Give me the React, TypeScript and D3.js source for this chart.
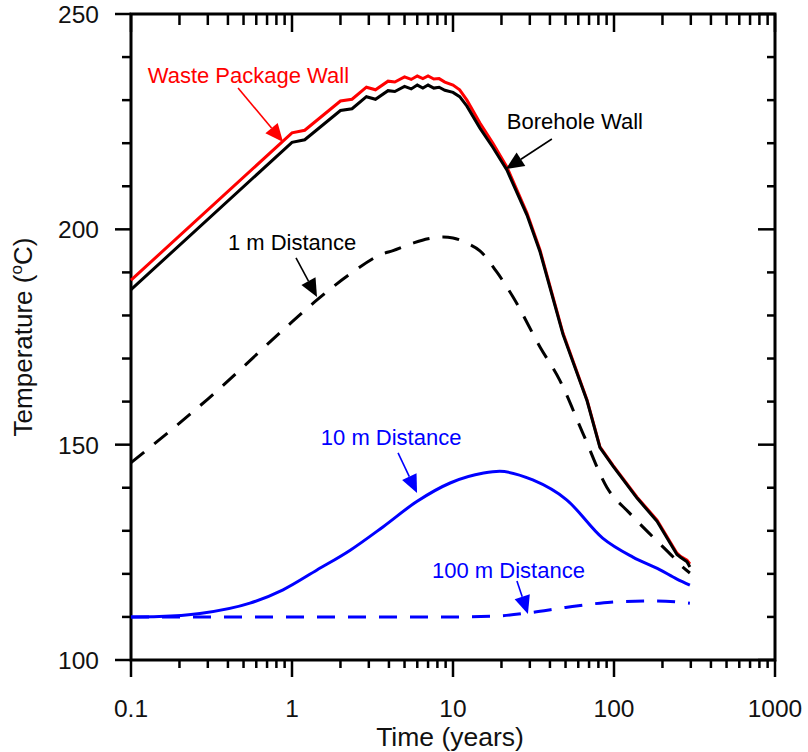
import React, { useRef, useEffect } from "react";
import * as d3 from "d3";

// Time (years) / temperature (deg C)
const wpTime = [0.1, 1.0, 1.2, 2.0, 2.36, 2.9, 3.3, 3.95, 4.35, 5.0, 5.5, 6.0, 6.5, 7.0, 7.6, 8.2, 8.9, 10, 11, 12.2, 14.7, 17.7, 21.6, 28.8, 34.7, 48.2, 68, 81.8, 98.6, 139, 185, 246, 260, 284, 296];
const wpTemp = [188.2, 222.4, 223.0, 229.8, 230.2, 233.0, 232.4, 234.4, 234.2, 235.4, 234.8, 235.6, 235.0, 235.6, 234.9, 235.0, 234.2, 233.5, 232.4, 230.0, 224.7, 220.0, 214.5, 203.8, 195.2, 175.9, 160.4, 149.5, 145.2, 137.8, 132.5, 124.8, 124.0, 123.2, 122.3];
const bhTemp = [186.0, 220.2, 220.8, 227.6, 228.0, 230.8, 230.2, 232.2, 232.0, 233.2, 232.6, 233.5, 232.8, 233.5, 232.8, 233.0, 232.3, 231.8, 230.8, 228.6, 223.5, 219.0, 213.8, 203.3, 194.8, 175.6, 160.2, 149.3, 145.0, 137.6, 132.2, 124.5, 123.8, 122.8, 121.6];

const d1Time = [0.1, 0.3, 1.0, 1.43, 2.39, 3.66, 4.2, 5.65, 7.0, 8.67, 10, 12.2, 14.7, 18.7, 23.6, 34.7, 46, 64, 90.6, 125, 174, 233, 260, 296];
const d1Temp = [145.8, 160.6, 178.5, 183.6, 190.1, 194.3, 195.0, 196.8, 197.8, 198.2, 198.0, 196.8, 195.0, 190.1, 184.3, 172.7, 165.0, 152.7, 140.0, 134.1, 128.6, 123.9, 122.0, 120.2];

const d10Time = [0.1, 0.15, 0.268, 0.548, 0.88, 1.43, 2.3, 3.67, 5.96, 9.6, 15.5, 19.5, 31.3, 50.8, 85, 131, 192, 246, 296];
const d10Temp = [110.0, 110.1, 110.8, 113.2, 116.3, 120.9, 125.5, 130.9, 136.8, 141.1, 143.4, 143.8, 141.8, 137.2, 128.3, 123.9, 121.0, 118.8, 117.4];

const d100Time = [0.1, 1, 10, 18.7, 28.8, 50, 81.8, 104, 174, 240, 296];
const d100Temp = [110.0, 110.0, 110.0, 110.2, 110.9, 112.2, 113.2, 113.5, 113.7, 113.5, 113.2];

const xTicks = [0.1, 1, 10, 100, 1000];
const xTickLabels = ["0.1", "1", "10", "100", "1000"];
const yTicks = [100, 150, 200, 250];

// label anchor and arrow tip in data units
const notes = [
  { text: "Waste Package Wall", color: "#ff0000", lx: 0.127, ly: 234.0, tx: 0.88, ty: 220.3, ox: -45, oy: -54 },
  { text: "Borehole Wall", color: "#000000", lx: 21.6, ly: 223.3, tx: 21.3, ty: 214.0, ox: 46, oy: -30 },
  { text: "1 m Distance", color: "#000000", lx: 0.4, ly: 195.2, tx: 1.43, ty: 184.3, ox: -21, oy: -39 },
  { text: "10 m Distance", color: "#0000ff", lx: 1.51, ly: 149.9, tx: 5.98, ty: 138.8, ox: -19, oy: -40 },
  { text: "100 m Distance", color: "#0000ff", lx: 7.41, ly: 119.0, tx: 29.2, ty: 110.7, ox: -11, oy: -33 },
];

export default function App() {
  const svgRef = useRef(null);

  useEffect(() => {
    document.body.style.margin = "0";
    const w = 808;
    const h = 752;
    const left = 131, right = 775, top = 14, bottom = 660;
    const font = "'Liberation Sans', Arial, sans-serif";

    const svg = d3.select(svgRef.current)
      .attr("width", w)
      .attr("height", h)
      .style("display", "block")
      .style("background", "#fff");
    svg.selectAll("*").remove();

    const x = d3.scaleLog().domain([0.1, 1000]).range([left, right]);
    const y = d3.scaleLinear().domain([100, 250]).range([bottom, top]);

    // ticks
    const minorX = [];
    for (let dec = 0.1; dec < 1000; dec *= 10) {
      for (let k = 2; k <= 9; k++) minorX.push(+(dec * k).toPrecision(3));
    }
    const minorY = d3.range(110, 250, 10).filter(v => v % 50 !== 0);
    const tk = svg.append("g").attr("stroke", "#000").attr("stroke-width", 2.5);
    xTicks.forEach(v => {
      tk.append("line").attr("x1", x(v)).attr("x2", x(v)).attr("y1", bottom).attr("y2", bottom + 17);
      tk.append("line").attr("x1", x(v)).attr("x2", x(v)).attr("y1", top).attr("y2", top + 18);
    });
    minorX.forEach(v => {
      tk.append("line").attr("x1", x(v)).attr("x2", x(v)).attr("y1", bottom).attr("y2", bottom + 8);
      tk.append("line").attr("x1", x(v)).attr("x2", x(v)).attr("y1", top).attr("y2", top + 11);
    });
    yTicks.forEach(v => {
      tk.append("line").attr("x1", left - 16).attr("x2", left).attr("y1", y(v)).attr("y2", y(v));
      tk.append("line").attr("x1", right - 17).attr("x2", right).attr("y1", y(v)).attr("y2", y(v));
    });
    minorY.forEach(v => {
      tk.append("line").attr("x1", left - 9).attr("x2", left).attr("y1", y(v)).attr("y2", y(v));
      tk.append("line").attr("x1", right - 8).attr("x2", right).attr("y1", y(v)).attr("y2", y(v));
    });

    // frame
    svg.append("rect")
      .attr("x", left).attr("y", top)
      .attr("width", right - left).attr("height", bottom - top)
      .attr("fill", "none").attr("stroke", "#000").attr("stroke-width", 3);

    // tick labels
    svg.append("g").selectAll("text").data(xTicks).join("text")
      .attr("x", d => x(d)).attr("y", 717)
      .attr("text-anchor", "middle")
      .style("font-family", font).style("font-size", "24.5px").attr("fill", "#111")
      .text((d, i) => xTickLabels[i]);
    svg.append("g").selectAll("text").data(yTicks).join("text")
      .attr("x", 99).attr("y", d => y(d) + 9)
      .attr("text-anchor", "end")
      .style("font-family", font).style("font-size", "24.5px").attr("fill", "#111")
      .text(d => d);

    // axis titles
    svg.append("text")
      .attr("x", (left + right) / 2 - 3).attr("y", 746)
      .attr("text-anchor", "middle")
      .style("font-family", font).style("font-size", "26.5px").attr("fill", "#111")
      .text("Time (years)");
    const yl = svg.append("text")
      .attr("transform", "translate(32,337) rotate(-90)")
      .attr("text-anchor", "middle")
      .style("font-family", font).style("font-size", "26px").attr("fill", "#111");
    yl.append("tspan").text("Temperature (");
    yl.append("tspan").attr("dy", -10).style("font-size", "17px").text("o");
    yl.append("tspan").attr("dy", 10).text("C)");

    // curves
    const series = [
      { t: wpTime, v: wpTemp, color: "#ff0000", dash: null, curve: d3.curveLinear },
      { t: wpTime, v: bhTemp, color: "#000000", dash: null, curve: d3.curveLinear },
      { t: d1Time, v: d1Temp, color: "#000000", dash: "17,13", curve: d3.curveMonotoneX },
      { t: d10Time, v: d10Temp, color: "#0000ff", dash: null, curve: d3.curveMonotoneX },
      { t: d100Time, v: d100Temp, color: "#0000ff", dash: "18,13", curve: d3.curveMonotoneX },
    ];
    series.forEach(s => {
      const line = d3.line()
        .x((d, i) => x(s.t[i]))
        .y(d => y(d))
        .curve(s.curve);
      svg.append("path")
        .datum(s.v)
        .attr("d", line)
        .attr("fill", "none")
        .attr("stroke", s.color)
        .attr("stroke-width", 3)
        .attr("stroke-dasharray", s.dash);
    });

    // annotations with arrows
    notes.forEach(n => {
      const tx = x(n.tx), ty = y(n.ty);
      const sx = tx + n.ox, sy = ty + n.oy;
      const ang = Math.atan2(ty - sy, tx - sx);
      const len = 18, half = 8;
      const bx = tx - len * Math.cos(ang), by = ty - len * Math.sin(ang);
      const px = -Math.sin(ang) * half, py = Math.cos(ang) * half;
      svg.append("line")
        .attr("x1", sx).attr("y1", sy).attr("x2", bx).attr("y2", by)
        .attr("stroke", n.color).attr("stroke-width", 1.6);
      svg.append("path")
        .attr("d", `M${tx},${ty}L${bx + px},${by + py}L${bx - px},${by - py}Z`)
        .attr("fill", n.color);
      svg.append("text")
        .attr("x", x(n.lx)).attr("y", y(n.ly))
        .style("font-family", font).style("font-size", "22px")
        .attr("fill", n.color)
        .text(n.text);
    });
  }, []);

  return (
    <div>
      <svg ref={svgRef}></svg>
    </div>
  );
}
